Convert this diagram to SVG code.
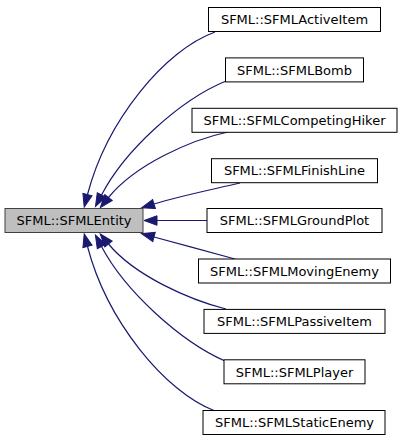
<svg xmlns="http://www.w3.org/2000/svg" width="403" height="443" viewBox="0 0 403 443">
<style>
  .box { fill: #ffffff; stroke: #000000; stroke-width: 1; }
  .base { fill: #bfbfbf; stroke: #404040; stroke-width: 1; }
  .lbl { font-family: "DejaVu Sans", sans-serif; font-size: 13px; fill: #000000; text-anchor: middle; }
  .edge { fill: none; stroke: #191970; stroke-width: 1.2; marker-end: url(#ah); }
</style>
<defs>
  <marker id="ah" markerUnits="userSpaceOnUse" markerWidth="14" markerHeight="11" refX="0" refY="4.75" orient="auto" overflow="visible">
    <path d="M0,0 L13,4.75 L0,9.5 Z" fill="#191970" stroke="#191970" stroke-width="1"/>
  </marker>
</defs>
<rect width="403" height="443" fill="#ffffff"/>
<g id="connectors">
  <path class="edge" d="M215,32 C165,50 107,120 87.5,194.5"/>
  <path class="edge" d="M226,81 C180,100 125,150 101.5,195"/>
  <path class="edge" d="M228,132 C190,140 135,165 108.5,197.5"/>
  <path class="edge" d="M240,183 C210,190 180,196 154,204"/>
  <path class="edge" d="M207,220.5 L157,220.5"/>
  <path class="edge" d="M235,259 C210,252 180,244 154,237"/>
  <path class="edge" d="M226,309 C190,300 135,276 108.5,244"/>
  <path class="edge" d="M225,361 C180,341 125,291 101.5,246.5"/>
  <path class="edge" d="M215,411 C165,392 107,321 87.5,246.5"/>
</g>
<g id="SFMLEntity">
  <rect class="base" x="5" y="208.5" width="138" height="24"/>
  <text class="lbl" x="74" y="225.2">SFML::SFMLEntity</text>
</g>
<g id="SFMLActiveItem">
  <rect class="box" x="208.5" y="7.5" width="172" height="24"/>
  <text class="lbl" x="294.5" y="24.2">SFML::SFMLActiveItem</text>
</g>
<g id="SFMLBomb">
  <rect class="box" x="225.5" y="57.9" width="138" height="24"/>
  <text class="lbl" x="294.5" y="74.6">SFML::SFMLBomb</text>
</g>
<g id="SFMLCompetingHiker">
  <rect class="box" x="192" y="108.3" width="205" height="24"/>
  <text class="lbl" x="294.5" y="125">SFML::SFMLCompetingHiker</text>
</g>
<g id="SFMLFinishLine">
  <rect class="box" x="211.5" y="158.7" width="166" height="24"/>
  <text class="lbl" x="294.5" y="175.4">SFML::SFMLFinishLine</text>
</g>
<g id="SFMLGroundPlot">
  <rect class="box" x="207" y="208.5" width="175" height="24"/>
  <text class="lbl" x="294.5" y="225.2">SFML::SFMLGroundPlot</text>
</g>
<g id="SFMLMovingEnemy">
  <rect class="box" x="198.5" y="259" width="192" height="24"/>
  <text class="lbl" x="294.5" y="275.7">SFML::SFMLMovingEnemy</text>
</g>
<g id="SFMLPassiveItem">
  <rect class="box" x="204" y="309.4" width="181" height="24"/>
  <text class="lbl" x="294.5" y="326.1">SFML::SFMLPassiveItem</text>
</g>
<g id="SFMLPlayer">
  <rect class="box" x="224" y="359.8" width="141" height="24"/>
  <text class="lbl" x="294.5" y="376.5">SFML::SFMLPlayer</text>
</g>
<g id="SFMLStaticEnemy">
  <rect class="box" x="203" y="410.5" width="182" height="24"/>
  <text class="lbl" x="294.5" y="427.2">SFML::SFMLStaticEnemy</text>
</g>
</svg>
